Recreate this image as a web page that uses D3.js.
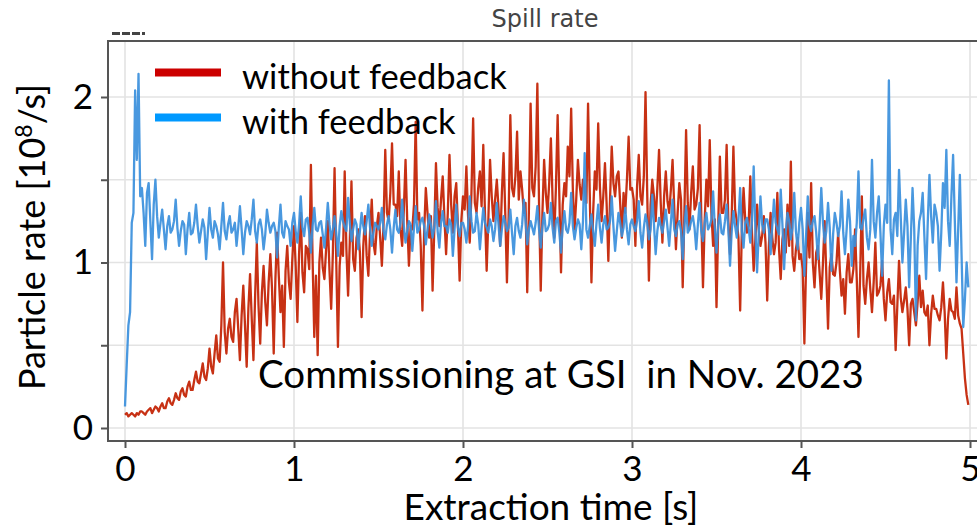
<!DOCTYPE html>
<html>
<head>
<meta charset="utf-8">
<script src="https://cdn.jsdelivr.net/npm/d3@7"></script>
<style>
  body { margin: 0; background: #fff; overflow: hidden; }
  svg { display: block; }
</style>
</head>
<body>
<svg id="chart" width="977" height="529"></svg>
<script>
// sample spacing of both spills, in seconds
const sampleStep = 0.01;

// particle rate without feedback [1e8/s], one row = 0.1 s
const withoutFeedback = [
  0.08, 0.09, 0.07, 0.08, 0.09, 0.08, 0.07, 0.09, 0.08, 0.10,
  0.10, 0.09, 0.08, 0.10, 0.11, 0.12, 0.09, 0.11, 0.13, 0.12,
  0.10, 0.13, 0.15, 0.12, 0.12, 0.16, 0.18, 0.15, 0.14, 0.17,
  0.21, 0.18, 0.17, 0.22, 0.24, 0.20, 0.19, 0.25, 0.28, 0.23,
  0.23, 0.29, 0.34, 0.28, 0.27, 0.33, 0.39, 0.31, 0.29, 0.36,
  0.48, 0.37, 0.33, 0.45, 0.56, 0.42, 0.40, 0.62, 1.00, 0.58,
  0.45, 0.60, 0.66, 0.55, 0.52, 0.70, 0.78, 0.60, 0.41, 0.68,
  0.86, 0.62, 0.37, 0.72, 0.93, 0.66, 0.41, 0.80, 1.12, 0.74,
  0.51, 0.82, 0.98, 0.76, 0.62, 0.88, 1.05, 0.84, 0.45, 0.90,
  1.18, 0.92, 0.70, 0.86, 0.49, 0.95, 1.10, 0.88, 0.78, 1.02,
  1.22, 0.98, 0.64, 1.05, 1.30, 0.94, 0.82, 1.10, 1.08, 0.96,
  1.59, 1.02, 0.55, 0.92, 0.44, 1.00, 1.15, 0.97, 0.90, 1.08,
  1.25, 0.95, 0.72, 1.06, 1.57, 1.01, 0.49, 0.98, 1.12, 1.04,
  1.55, 1.08, 0.80, 1.12, 1.49, 1.02, 0.95, 1.15, 1.20, 1.06,
  0.67, 1.10, 1.28, 1.04, 0.92, 1.18, 1.38, 1.12, 1.05, 1.22,
  1.30, 1.15, 0.98, 1.24, 1.68, 1.30, 1.25, 1.42, 1.72, 1.35,
  1.35, 1.28, 1.55, 1.20, 1.10, 1.32, 1.62, 1.25, 0.98, 1.22,
  1.20, 1.35, 1.85, 1.26, 1.30, 1.10, 0.71, 1.18, 1.45, 1.30,
  1.15, 1.28, 0.83, 1.20, 1.60, 1.33, 1.22, 1.38, 1.52, 1.27,
  1.05, 1.30, 1.65, 1.35, 1.18, 1.40, 1.48, 1.22, 0.89, 1.25,
  1.40, 1.32, 1.58, 1.28, 1.12, 1.42, 1.87, 1.36, 1.30, 1.45,
  1.55, 1.34, 1.71, 1.30, 0.95, 1.26, 1.62, 1.40, 1.25, 1.38,
  1.50, 1.33, 1.10, 1.42, 1.66, 1.30, 0.88, 1.28, 1.89, 1.45,
  1.40, 1.52, 1.79, 1.38, 1.55, 1.44, 1.30, 1.36, 0.82, 1.32,
  1.96, 1.45, 1.40, 1.58, 2.08, 1.35, 0.83, 1.30, 1.62, 1.42,
  1.30, 1.48, 1.75, 1.38, 1.15, 1.46, 1.89, 1.40, 0.94, 1.35,
  1.48, 1.40, 1.70, 1.52, 1.93, 1.44, 1.20, 1.38, 1.62, 1.47,
  1.38, 1.50, 1.45, 1.36, 1.96, 1.42, 0.88, 1.30, 1.55, 1.44,
  1.84, 1.46, 1.25, 1.40, 1.60, 1.35, 1.01, 1.38, 1.70, 1.48,
  1.40, 1.52, 1.55, 1.36, 1.15, 1.42, 1.30, 1.50, 1.76, 1.44,
  1.45, 1.38, 1.10, 1.46, 1.65, 1.40, 1.35, 1.52, 2.03, 1.42,
  0.89, 1.35, 1.50, 1.40, 1.25, 1.45, 1.68, 1.36, 1.12, 1.40,
  1.55, 1.37, 1.30, 1.44, 1.62, 1.33, 1.08, 1.30, 1.48, 1.38,
  0.85, 1.30, 1.80, 1.36, 1.20, 1.42, 1.58, 1.32, 1.35, 1.45,
  1.83, 1.28, 0.85, 1.25, 1.50, 1.34, 1.74, 1.30, 1.10, 1.26,
  0.73, 1.22, 1.64, 1.30, 1.30, 1.38, 1.71, 1.25, 1.05, 1.28,
  1.70, 1.32, 1.25, 1.15, 0.71, 1.20, 1.45, 1.26, 1.18, 1.22,
  1.52, 1.18, 0.95, 1.14, 1.35, 1.20, 1.10, 1.16, 1.28, 1.12,
  0.77, 1.10, 1.30, 1.15, 1.05, 1.12, 1.42, 1.08, 0.90, 1.14,
  1.20, 1.06, 1.35, 1.10, 1.61, 1.04, 0.95, 1.08, 1.15, 1.02,
  1.05, 0.96, 0.51, 0.98, 1.30, 1.03, 1.48, 1.00, 0.85, 1.06,
  1.10, 0.94, 0.78, 1.00, 1.25, 0.92, 0.60, 0.97, 1.05, 0.93,
  0.92, 1.00, 1.18, 0.95, 0.80, 0.90, 0.69, 0.94, 1.05, 0.88,
  0.88, 0.96, 1.20, 0.90, 0.55, 0.92, 1.40, 0.86, 0.75, 0.90,
  1.00, 0.84, 0.70, 0.88, 1.12, 0.80, 0.82, 0.86, 1.01, 0.78,
  0.65, 0.82, 0.90, 0.76, 0.75, 0.80, 0.47, 0.74, 1.01, 0.79,
  0.70, 0.77, 0.85, 0.72, 0.50, 0.75, 0.78, 0.70, 0.62, 0.76,
  0.92, 0.73, 0.83, 0.70, 0.68, 0.74, 0.50, 0.69, 0.80, 0.72,
  0.72, 0.68, 0.65, 0.73, 0.88, 0.70, 0.42, 0.66, 0.78, 0.71,
  0.70, 0.66, 0.85, 0.68, 0.63, 0.60, 0.45, 0.30, 0.20, 0.14
];

// particle rate with feedback [1e8/s], one row = 0.1 s
const withFeedback = [
  0.13, 0.38, 0.62, 0.70, 1.24, 1.30, 2.04, 1.62, 2.14, 1.40,
  1.45, 1.30, 1.10, 1.42, 1.48, 1.25, 1.02, 1.35, 1.50, 1.28,
  1.15, 1.24, 1.32, 1.20, 1.08, 1.22, 1.28, 1.18, 1.20, 1.25,
  1.38, 1.21, 1.10, 1.19, 1.25, 1.23, 1.05, 1.20, 1.30, 1.17,
  1.18, 1.24, 1.35, 1.22, 1.12, 1.19, 1.26, 1.21, 1.02, 1.18,
  1.33, 1.20, 1.15, 1.25, 1.22, 1.17, 1.08, 1.22, 1.36, 1.19,
  1.14, 1.23, 1.28, 1.18, 1.20, 1.24, 1.10, 1.21, 1.34, 1.20,
  1.05, 1.18, 1.25, 1.22, 1.17, 1.26, 1.38, 1.19, 1.12, 1.23,
  1.26, 1.20, 1.08, 1.17, 1.32, 1.24, 1.18, 1.22, 1.24, 1.19,
  1.03, 1.21, 1.35, 1.18, 1.15, 1.25, 1.22, 1.20, 1.10, 1.24,
  1.30, 1.19, 1.12, 1.23, 1.40, 1.21, 1.16, 1.26, 1.27, 1.18,
  1.06, 1.22, 1.33, 1.20, 1.19, 1.24, 1.25, 1.17, 1.09, 1.21,
  1.36, 1.23, 1.14, 1.20, 1.28, 1.18, 1.04, 1.22, 1.31, 1.25,
  1.21, 1.19, 1.39, 1.24, 1.13, 1.20, 1.26, 1.23, 1.08, 1.19,
  1.30, 1.22, 1.17, 1.25, 1.35, 1.21, 1.10, 1.18, 1.24, 1.22,
  1.20, 1.24, 1.33, 1.19, 1.14, 1.23, 1.28, 1.20, 1.06, 1.21,
  1.32, 1.20, 1.18, 1.24, 1.38, 1.22, 1.12, 1.19, 1.25, 1.23,
  1.07, 1.21, 1.34, 1.18, 1.20, 1.25, 1.27, 1.22, 1.11, 1.20,
  1.29, 1.23, 1.15, 1.21, 1.37, 1.19, 1.09, 1.24, 1.31, 1.22,
  1.22, 1.18, 1.26, 1.23, 1.04, 1.20, 1.35, 1.21, 1.16, 1.24,
  1.24, 1.20, 1.12, 1.22, 1.40, 1.25, 1.18, 1.19, 1.30, 1.23,
  1.08, 1.21, 1.33, 1.24, 1.21, 1.18, 1.26, 1.22, 1.13, 1.20,
  1.36, 1.23, 1.10, 1.20, 1.28, 1.24, 1.19, 1.21, 1.32, 1.18,
  1.05, 1.22, 1.27, 1.19, 1.15, 1.23, 1.38, 1.25, 1.11, 1.20,
  1.25, 1.21, 1.17, 1.24, 1.34, 1.20, 1.09, 1.22, 1.30, 1.19,
  1.20, 1.23, 1.36, 1.21, 1.12, 1.25, 1.27, 1.18, 1.06, 1.22,
  1.31, 1.20, 1.18, 1.24, 1.42, 1.22, 1.14, 1.21, 1.26, 1.23,
  1.08, 1.25, 1.66, 1.20, 1.15, 1.22, 1.29, 1.19, 1.10, 1.24,
  1.35, 1.21, 1.12, 1.23, 1.28, 1.20, 1.21, 1.25, 1.40, 1.22,
  1.07, 1.19, 1.30, 1.24, 1.16, 1.21, 1.33, 1.20, 1.11, 1.23,
  1.26, 1.22, 1.19, 1.25, 1.37, 1.18, 1.09, 1.21, 1.29, 1.24,
  1.14, 1.20, 1.41, 1.23, 1.05, 1.19, 1.27, 1.22, 1.18, 1.25,
  1.32, 1.21, 1.10, 1.24, 1.38, 1.20, 1.16, 1.23, 1.25, 1.19,
  1.02, 1.22, 1.34, 1.18, 1.20, 1.25, 1.28, 1.21, 1.08, 1.23,
  1.36, 1.19, 1.13, 1.24, 1.30, 1.20, 1.22, 1.26, 1.43, 1.21,
  1.06, 1.23, 1.29, 1.18, 1.17, 1.25, 1.35, 1.20, 0.98, 1.19,
  1.31, 1.22, 1.15, 1.26, 1.45, 1.19, 1.09, 1.24, 1.27, 1.21,
  1.12, 1.25, 1.58, 1.20, 0.94, 1.18, 1.40, 1.23, 1.18, 1.26,
  1.26, 1.20, 1.05, 1.22, 1.38, 1.24, 1.20, 1.17, 1.44, 1.23,
  0.96, 1.18, 1.30, 1.25, 1.14, 1.21, 1.42, 1.19, 1.08, 1.24,
  1.33, 1.20, 0.92, 1.16, 1.40, 1.23, 1.19, 1.25, 1.28, 1.18,
  1.02, 1.22, 1.45, 1.24, 1.12, 1.19, 1.36, 1.21, 0.95, 1.17,
  1.30, 1.24, 1.16, 1.22, 1.43, 1.18, 1.05, 1.20, 1.38, 1.25,
  0.98, 1.16, 1.10, 1.24, 1.55, 1.21, 1.20, 1.27, 1.32, 1.15,
  1.08, 1.20, 1.62, 1.25, 1.15, 1.30, 1.40, 1.18, 0.92, 1.22,
  1.35, 1.24, 2.10, 1.20, 1.05, 1.26, 1.30, 1.16, 1.56, 1.28,
  1.00, 1.18, 1.38, 1.22, 0.85, 1.15, 1.45, 1.20, 0.65, 1.10,
  1.25, 1.30, 1.42, 1.16, 0.90, 1.24, 1.53, 1.28, 1.12, 1.35,
  1.30, 1.22, 0.95, 1.18, 1.48, 1.33, 1.68, 1.25, 1.10, 1.40,
  1.65, 1.26, 0.88, 1.20, 1.53, 1.05, 0.61, 0.78, 1.00, 0.85
];

const xTicks = [0, 1, 2, 3, 4, 5];
const yTicks = [0, 0.5, 1, 1.5, 2];
const yTickLabels = [0, 1, 2];

const series = [
  { name: "without feedback", values: withoutFeedback, color: "#c21f00", key: "#cc0000" },
  { name: "with feedback", values: withFeedback, color: "#3a8fdc", key: "#0099ff" }
];

const font = "Lato, 'Open Sans', sans-serif";
const svg = d3.select("#chart");

// plot frame (right edge runs past the picture)
const frame = { left: 108, top: 41, right: 987, bottom: 441 };
const x = d3.scaleLinear().domain([0, 5]).range([125, 970]);
const y = d3.scaleLinear().domain([0, 2]).range([428, 97]);

svg.append("defs").append("clipPath").attr("id", "plotClip")
  .append("rect")
  .attr("x", frame.left).attr("y", frame.top)
  .attr("width", frame.right - frame.left).attr("height", frame.bottom - frame.top);

// grid
const grid = svg.append("g").attr("stroke", "#e3e3e3").attr("stroke-width", 1.6);
grid.selectAll(".gx").data(xTicks).join("line")
  .attr("x1", d => x(d)).attr("x2", d => x(d))
  .attr("y1", frame.top).attr("y2", frame.bottom);
grid.selectAll(".gy").data(yTicks).join("line")
  .attr("x1", frame.left).attr("x2", frame.right)
  .attr("y1", d => y(d)).attr("y2", d => y(d));

// traces
const line = d3.line()
  .x((d, i) => x(i * sampleStep))
  .y(d => y(d));

svg.append("g").attr("clip-path", "url(#plotClip)")
  .selectAll("path").data(series).join("path")
  .attr("d", d => line(d.values))
  .attr("fill", "none")
  .attr("stroke", d => d.color)
  .attr("stroke-width", 2.3)
  .attr("stroke-linejoin", "round")
  .attr("stroke-opacity", 0.92);

// frame
svg.append("rect")
  .attr("x", frame.left).attr("y", frame.top)
  .attr("width", frame.right - frame.left).attr("height", frame.bottom - frame.top)
  .attr("fill", "none").attr("stroke", "#555").attr("stroke-width", 2);

// axes
const yAxis = svg.append("g")
  .attr("transform", `translate(${frame.left},0)`)
  .call(d3.axisLeft(y).tickValues(yTicks).tickSize(7).tickPadding(8)
    .tickFormat(d => yTickLabels.includes(d) ? d : ""));
const xAxis = svg.append("g")
  .attr("transform", `translate(0,${frame.bottom})`)
  .call(d3.axisBottom(x).tickValues(xTicks).tickSize(7).tickFormat(d3.format("d")));

[xAxis, yAxis].forEach(g => {
  g.select(".domain").remove();
  g.selectAll(".tick line").attr("stroke", "#555").attr("stroke-width", 2);
  g.selectAll("text").attr("font-family", font).attr("font-size", 35).attr("fill", "#000");
});
xAxis.selectAll("text").attr("dy", null).attr("y", 40);

// titles
svg.append("text")
  .attr("x", 545).attr("y", 27)
  .attr("text-anchor", "middle")
  .attr("font-family", "'DejaVu Sans', sans-serif").attr("font-size", 24)
  .attr("fill", "#444")
  .text("Spill rate");

svg.append("path")
  .attr("d", "M112,33.5H145")
  .attr("stroke", "#444").attr("stroke-width", 3).attr("stroke-dasharray", "8,2");

svg.append("text")
  .attr("x", 551).attr("y", 520)
  .attr("text-anchor", "middle")
  .attr("font-family", font).attr("font-size", 37)
  .text("Extraction time [s]");

const yLabel = svg.append("text")
  .attr("transform", "translate(45,237) rotate(-90)")
  .attr("text-anchor", "middle")
  .attr("font-family", font).attr("font-size", 36);
yLabel.append("tspan").text("Particle rate [10");
yLabel.append("tspan").attr("font-size", 23).attr("dy", -13).text("8");
yLabel.append("tspan").attr("dy", 13).text("/s]");

svg.append("text")
  .attr("x", 258).attr("y", 388)
  .attr("font-family", font).attr("font-size", 38.5)
  .text("Commissioning at GSI\u00a0 in Nov. 2023");

// legend
const legend = svg.append("g").selectAll("g").data(series).join("g")
  .attr("transform", (d, i) => `translate(0,${i * 45})`);
legend.append("line")
  .attr("x1", 155).attr("x2", 221).attr("y1", 72.5).attr("y2", 72.5)
  .attr("stroke", d => d.key).attr("stroke-width", 8);
legend.append("text")
  .attr("x", 242).attr("y", 89)
  .attr("font-family", font).attr("font-size", 34.5)
  .text(d => d.name);
</script>
</body>
</html>
